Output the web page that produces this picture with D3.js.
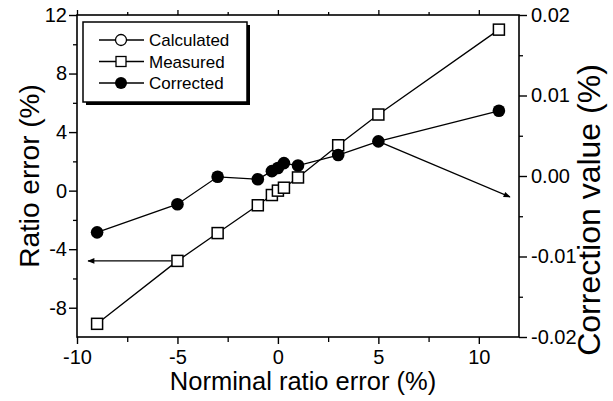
<!DOCTYPE html>
<html>
<head>
<meta charset="utf-8">
<script src="https://cdn.jsdelivr.net/npm/d3@7"></script>
<style>
  body { margin: 0; background: #fff; }
  svg { font-family: "Liberation Sans", Arial, sans-serif; }
</style>
</head>
<body>
<div id="chart"></div>
<script>
// nominal ratio error (%) shared by both series
const nominal = [-9, -5, -3, -1, -0.3, 0, 0.3, 1, 3, 5, 11];
// measured ratio error (%), left axis
const measured = [-9.1, -4.8, -2.9, -1.0, -0.3, 0.0, 0.2, 0.9, 3.1, 5.2, 11.0];
// corrected / correction value (%), right axis
const corrected = [-0.0070, -0.0035, -0.0001, -0.0004, 0.0006, 0.0010, 0.0016, 0.0013, 0.0026, 0.0043, 0.0081];

const legendNames = ["Calculated", "Measured", "Corrected"];
const xTicks = [-10, -5, 0, 5, 10];
const yLeftTicks = [-8, -4, 0, 4, 8, 12];
const yRightTicks = [-0.02, -0.01, 0, 0.01, 0.02];

// arrows pointing to the axis each series belongs to: [x0, y0, x1, y1]
const arrowLeft = [-5, -4.8, -9.45, -4.8];      // left axis units
const arrowRight = [5, 0.0043, 11.55, -0.0026]; // right axis units

const W = 613, H = 401;
const margin = {top: 15, right: 94, bottom: 64, left: 77};

const svg = d3.select("#chart").append("svg")
    .attr("width", W)
    .attr("height", H);

const x = d3.scaleLinear().domain([-10, 12]).range([margin.left, W - margin.right]);
const yL = d3.scaleLinear().domain([-10, 12]).range([H - margin.bottom, margin.top]);
const yR = d3.scaleLinear().domain([-0.02, 0.02]).range([H - margin.bottom, margin.top]);

const x0 = x.range()[0], x1 = x.range()[1];
const yTop = yL.range()[1], yBot = yL.range()[0];

// plain hyphen instead of the unicode minus
const fmt = spec => d => d3.format(spec)(d).replace("\u2212", "-");

svg.append("defs").append("marker")
    .attr("id", "arrowhead")
    .attr("viewBox", "0 0 10 10")
    .attr("refX", 9).attr("refY", 5)
    .attr("markerWidth", 7).attr("markerHeight", 5)
    .attr("orient", "auto")
    .append("path")
    .attr("d", "M0,1 L10,5 L0,9 Z")
    .attr("fill", "#000");

// minor ticks
const minor = (axis, pos, size) => svg.append("g")
    .attr("transform", pos)
    .call(axis.tickSize(size).tickSizeOuter(0).tickFormat(""))
    .call(g => g.select(".domain").remove())
    .call(g => g.selectAll("line").attr("stroke-width", 1.3));

minor(d3.axisBottom(x).tickValues([-7.5, -2.5, 2.5, 7.5]), `translate(0,${yBot})`, 5);
minor(d3.axisTop(x).tickValues([-7.5, -2.5, 2.5, 7.5]), `translate(0,${yTop})`, 3);
minor(d3.axisTop(x).tickValues(xTicks), `translate(0,${yTop})`, 5);
minor(d3.axisLeft(yL).tickValues([10, 6, 2, -2, -6]), `translate(${x0},0)`, 4);
minor(d3.axisRight(yR).tickValues([0.015, 0.005, -0.005, -0.015]), `translate(${x1},0)`, 4);

// major axes
const styleAxis = g => {
    g.select(".domain").remove();
    g.selectAll("line").attr("stroke-width", 1.4);
    g.selectAll("text").attr("font-size", 20).attr("fill", "#000");
};

svg.append("g")
    .attr("transform", `translate(0,${yBot})`)
    .call(d3.axisBottom(x).tickValues(xTicks).tickSize(7).tickPadding(6).tickSizeOuter(0).tickFormat(fmt("d")))
    .call(styleAxis);

svg.append("g")
    .attr("transform", `translate(${x0},0)`)
    .call(d3.axisLeft(yL).tickValues(yLeftTicks).tickSize(8).tickPadding(2).tickSizeOuter(0).tickFormat(fmt("d")))
    .call(styleAxis);

svg.append("g")
    .attr("transform", `translate(${x1},0)`)
    .call(d3.axisRight(yR).tickValues(yRightTicks).tickSize(8).tickPadding(4).tickSizeOuter(0).tickFormat(fmt(".2f")))
    .call(styleAxis);

// frame
svg.append("rect")
    .attr("x", x0).attr("y", yTop)
    .attr("width", x1 - x0).attr("height", yBot - yTop)
    .attr("fill", "none").attr("stroke", "#000").attr("stroke-width", 1.6);

// axis titles
svg.append("text")
    .attr("x", (x0 + x1) / 2 + 5).attr("y", 390)
    .attr("text-anchor", "middle").attr("font-size", 25.5)
    .text("Norminal ratio error (%)");

svg.append("text")
    .attr("transform", `translate(39,${(yTop + yBot) / 2})rotate(-90)`)
    .attr("text-anchor", "middle").attr("font-size", 28)
    .text("Ratio error (%)");

svg.append("text")
    .attr("transform", `translate(600,210)rotate(-90)`)
    .attr("text-anchor", "middle").attr("font-size", 32)
    .text("Correction value (%)");

// series lines
const measPts = nominal.map((d, i) => [x(d), yL(measured[i])]);
const corrPts = nominal.map((d, i) => [x(d), yR(corrected[i])]);

svg.append("path")
    .attr("d", d3.line()(measPts))
    .attr("fill", "none").attr("stroke", "#000").attr("stroke-width", 1.3);

svg.append("path")
    .attr("d", d3.line()(corrPts))
    .attr("fill", "none").attr("stroke", "#000").attr("stroke-width", 1.3);

// arrows
svg.append("line")
    .attr("x1", x(arrowLeft[0]) - 6).attr("y1", yL(arrowLeft[1]))
    .attr("x2", x(arrowLeft[2])).attr("y2", yL(arrowLeft[3]))
    .attr("stroke", "#000").attr("stroke-width", 1.4)
    .attr("marker-end", "url(#arrowhead)");

svg.append("line")
    .attr("x1", x(arrowRight[0])).attr("y1", yR(arrowRight[1]))
    .attr("x2", x(arrowRight[2])).attr("y2", yR(arrowRight[3]))
    .attr("stroke", "#000").attr("stroke-width", 1.4)
    .attr("marker-end", "url(#arrowhead)");

// markers
svg.selectAll(".meas")
    .data(measPts)
    .enter().append("rect")
    .attr("class", "meas")
    .attr("x", d => d[0] - 5.5).attr("y", d => d[1] - 5.5)
    .attr("width", 11).attr("height", 11)
    .attr("fill", "#fff").attr("stroke", "#000").attr("stroke-width", 1.5);

svg.selectAll(".corr")
    .data(corrPts)
    .enter().append("circle")
    .attr("class", "corr")
    .attr("cx", d => d[0]).attr("cy", d => d[1])
    .attr("r", 6.3)
    .attr("fill", "#000");

// legend
const legend = svg.append("g").attr("transform", "translate(83,22)");

legend.append("rect")
    .attr("x", 3).attr("y", 3).attr("width", 164).attr("height", 80)
    .attr("fill", "#000");
legend.append("rect")
    .attr("width", 164).attr("height", 80)
    .attr("fill", "#fff").attr("stroke", "#000").attr("stroke-width", 1.5);

legendNames.forEach((name, i) => {
    let cy = 18 + i * 21.5;
    legend.append("line")
        .attr("x1", 16).attr("x2", 61).attr("y1", cy).attr("y2", cy)
        .attr("stroke", "#000").attr("stroke-width", 1.3);
    if (name === "Calculated") {
        legend.append("circle").attr("cx", 38).attr("cy", cy).attr("r", 5.5)
            .attr("fill", "#fff").attr("stroke", "#000").attr("stroke-width", 1.3);
    } else if (name === "Measured") {
        legend.append("rect").attr("x", 33).attr("y", cy - 5).attr("width", 10).attr("height", 10)
            .attr("fill", "#fff").attr("stroke", "#000").attr("stroke-width", 1.3);
    } else {
        legend.append("circle").attr("cx", 38).attr("cy", cy).attr("r", 6)
            .attr("fill", "#000");
    }
    legend.append("text")
        .attr("x", 66).attr("y", cy + 6)
        .attr("font-size", 17)
        .text(name);
});
</script>
</body>
</html>
